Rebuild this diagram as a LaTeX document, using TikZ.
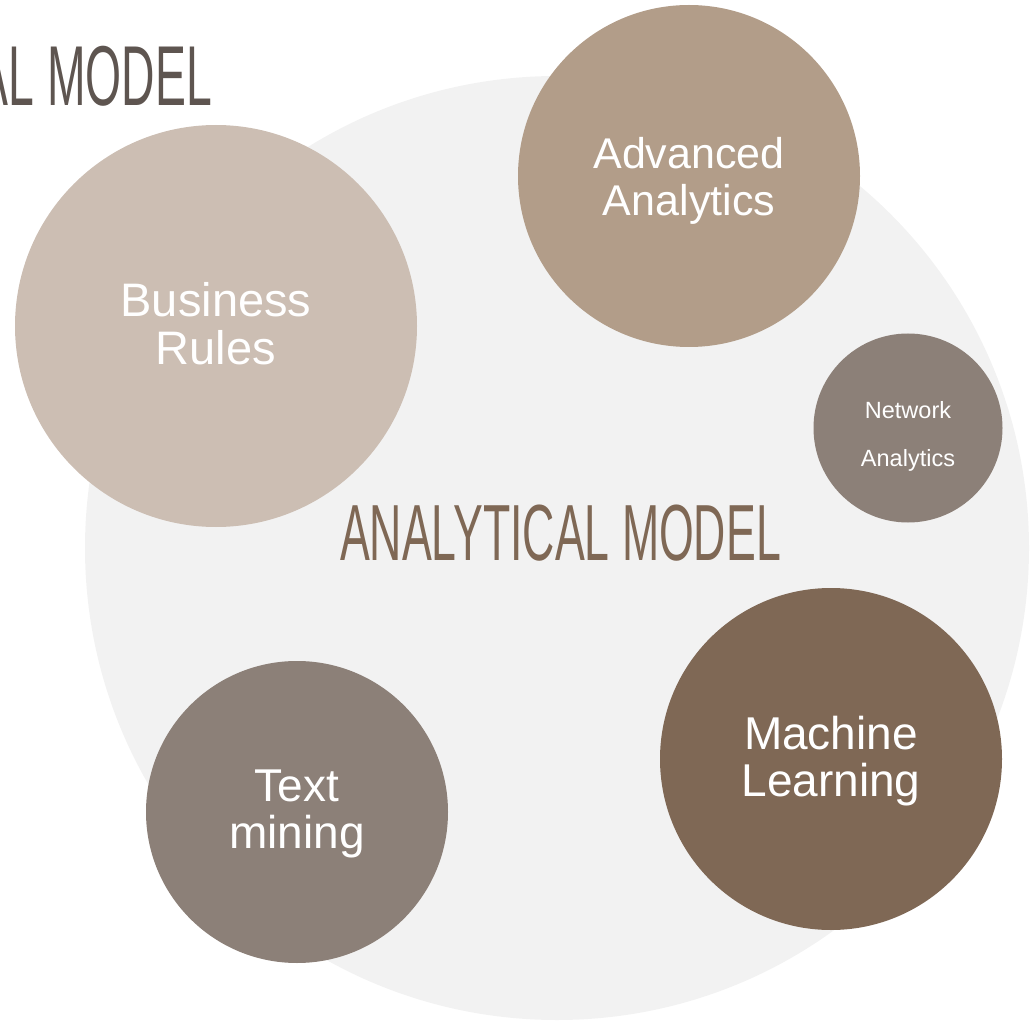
\documentclass[tikz,border=0pt]{standalone}
\usepackage{fontspec}
\setmainfont{Liberation Sans}
\usepackage{graphicx}
\definecolor{bggray}{HTML}{F2F2F2}
\definecolor{cbr}{HTML}{CCBEB3}
\definecolor{cadv}{HTML}{B29D89}
\definecolor{cnet}{HTML}{8C8078}
\definecolor{cml}{HTML}{7F6855}
\definecolor{ctitle}{HTML}{7F6855}
\definecolor{ctop}{HTML}{5E5550}
\tikzset{
  bubble/.style={circle, draw=none, inner sep=0pt, outer sep=0pt},
  bubbletext/.style={inner sep=0pt, outer sep=0pt, text=white, align=center},
  titletext/.style={inner sep=0pt, outer sep=0pt}
}
\begin{document}
\begin{tikzpicture}[x=1pt,y=-1pt]
\useasboundingbox (0,0) rectangle (1034,1024);
\clip (0,0) rectangle (1034,1024);
% big background circle
\node[bubble, fill=bggray, minimum size=944pt] (bg) at (557,548) {};
% top-left clipped title
\node[titletext, anchor=base east, text=ctop] (toptitle) at (212,106)
  {\scalebox{0.545}[1]{\fontsize{85}{85}\selectfont ANALYTICAL MODEL}};
% bubbles
\node[bubble, fill=cbr, minimum size=402pt] (br) at (216,326) {};
\node[bubble, fill=cadv, minimum size=342pt] (adv) at (689,176) {};
\node[bubble, fill=cnet, minimum size=189pt] (net) at (908,428) {};
\node[bubble, fill=cml, minimum size=342pt] (ml) at (831,759) {};
\node[bubble, fill=cnet, minimum size=302pt] (tm) at (297,812) {};
% bubble texts
\node[bubbletext, font=\fontsize{47}{48}\selectfont] (brt) at (216,324) {Business\\Rules};
\node[bubbletext, font=\fontsize{43}{47}\selectfont] (advt) at (689,181) {Advanced\\Analytics};
\node[bubbletext, font=\fontsize{23.5}{48}\selectfont] (nett) at (908,436) {Network\\Analytics};
\node[bubbletext, font=\fontsize{46}{47}\selectfont] (mlt) at (831,761) {Machine\\Learning};
\node[bubbletext, font=\fontsize{46}{47}\selectfont] (tmt) at (297,814) {Text\\mining};
% central title
\node[titletext, anchor=base west, text=ctitle] (title) at (340,560)
  {\scalebox{0.561}[1]{\fontsize{79.6}{80}\selectfont ANALYTICAL MODEL}};
\end{tikzpicture}
\end{document}
